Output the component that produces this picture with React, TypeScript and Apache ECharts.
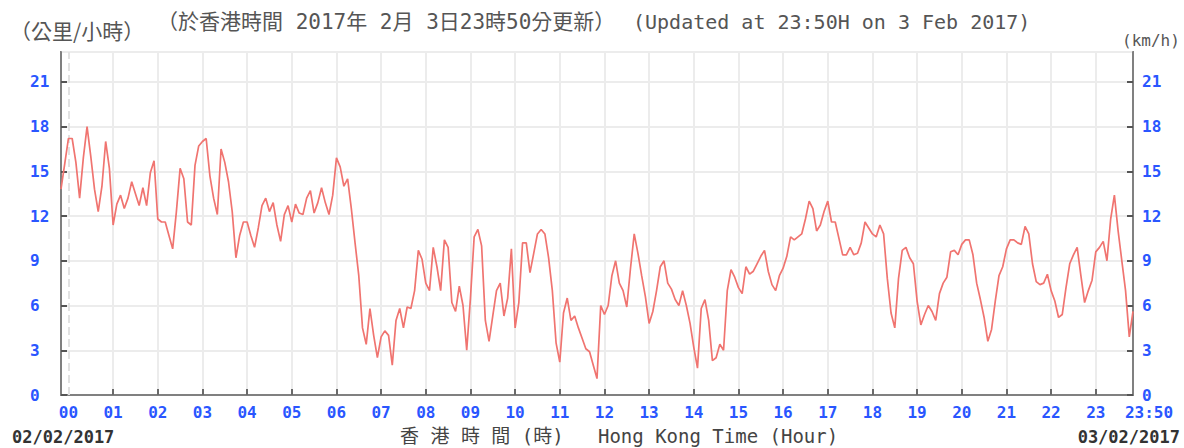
import React, { useEffect, useRef } from "react";
import * as echarts from "echarts";

// 5-minute wind speed readings (km/h), from 23:50 on 02/02/2017 to 23:50 on 03/02/2017
const START_MIN = -10;
const STEP_MIN = 5;

const speed0 = [
  13.8, 15.5, 17.2, 17.2, 15.6, 13.2, 15.9, 18.0, 16.0, 13.8,
  12.3, 14.0, 17.0, 15.2, 11.4, 12.8, 13.4, 12.5, 13.2, 14.3,
  13.5, 12.7, 13.9, 12.7, 14.9, 15.7, 11.8, 11.6, 11.6, 10.7,
  9.8, 12.3, 15.2, 14.5, 11.6, 11.4, 15.4, 16.7, 17.0, 17.2,
  14.7, 13.2, 12.1, 16.5, 15.6, 14.3, 12.3, 9.2, 10.7, 11.6,
  11.6, 10.7, 9.9, 11.2, 12.7, 13.2, 12.3, 12.9, 11.4, 10.3,
  12.1, 12.7, 11.6, 12.8, 12.2, 12.1, 13.2, 13.7, 12.2, 12.9,
  13.9, 12.9, 12.1, 13.4,
];
const speed1 = [
  15.9, 15.3, 14.0, 14.5, 12.5, 10.2, 8.0, 4.5, 3.4, 5.8,
  4.0, 2.5, 3.9, 4.3, 4.0, 2.0, 5.0, 5.8, 4.5, 5.9,
  5.8, 7.0, 9.7, 9.1, 7.5, 7.0, 9.9, 8.6, 7.0, 10.4,
  9.9, 6.2, 5.6, 7.3, 6.0, 3.0, 6.5, 10.6, 11.1, 10.0,
  5.0, 3.6, 5.3, 7.0, 7.5, 5.3, 6.5, 9.8, 4.5, 6.2,
  10.2, 10.2, 8.2, 9.5, 10.8, 11.1, 10.8, 9.2, 7.0, 3.5,
  2.2, 5.5, 6.5, 5.0, 5.3, 4.5, 3.8, 3.1, 2.9, 2.0,
  1.1, 6.0, 5.4,
];
const speed2 = [
  6.0, 8.0, 9.0, 7.5, 7.0, 5.9, 8.5, 10.8, 9.5, 8.0,
  6.6, 4.8, 5.6, 7.0, 8.6, 9.0, 7.5, 7.1, 6.4, 6.0,
  7.0, 6.0, 4.8, 3.2, 1.8, 5.8, 6.4, 5.0, 2.3, 2.5,
  3.4, 3.0, 7.0, 8.4, 7.9, 7.2, 6.8, 8.6, 8.1, 8.3,
  8.8, 9.3, 9.7, 8.3, 7.4, 7.0, 8.0, 8.5, 9.3, 10.6,
  10.4, 10.6, 10.8, 11.8, 13.0, 12.5, 11.0, 11.4, 12.3, 13.0,
  11.6, 11.6, 10.5, 9.4, 9.4, 9.9, 9.4, 9.5, 10.2, 11.6,
  11.2, 10.8,
];
const speed3 = [
  10.6, 11.4, 10.8, 7.8, 5.5, 4.5, 7.8, 9.7, 9.9, 9.2,
  8.8, 6.3, 4.7, 5.4, 6.0, 5.6, 5.0, 6.8, 7.5, 7.9,
  9.6, 9.7, 9.4, 10.1, 10.4, 10.4, 9.4, 7.5, 6.4, 5.2,
  3.6, 4.4, 6.3, 8.0, 8.6, 9.8, 10.4, 10.4, 10.2, 10.1,
  11.3, 10.8, 8.8, 7.6, 7.4, 7.5, 8.1, 7.0, 6.3, 5.2,
  5.4, 7.2, 8.8, 9.4, 9.9, 8.0, 6.2, 7.0, 7.7, 9.6,
  9.9, 10.3, 9.0, 11.8, 13.4, 11.0, 9.0, 7.0, 3.9, 5.6,
];

const speeds = [...speed0, ...speed1, ...speed2, ...speed3];

const pad2 = (n: number) => String(n).padStart(2, "0");
const times = speeds.map((_, i) => {
  const m = (START_MIN + i * STEP_MIN + 1440) % 1440;
  return `${pad2(Math.floor(m / 60))}:${pad2(m % 60)}`;
});

const Y_MIN = 0;
const Y_MAX = 23;
const Y_STEP = 3;

const TITLE_ZH = "（於香港時間 2017年 2月 3日23時50分更新）";
const TITLE_EN = "(Updated at 23:50H on 3 Feb 2017)";
const UNIT_ZH = "（公里/小時）";
const UNIT_EN = "(km/h)";
const X_TITLE = "香 港 時 間 (時)   Hong Kong Time (Hour)";
const START_DATE = "02/02/2017";
const END_DATE = "03/02/2017";

const MONO = '"DejaVu Sans Mono", "Noto Sans CJK TC", monospace';
const CJK = '"Noto Sans CJK TC", "DejaVu Sans Mono", sans-serif';
const LABEL_BLUE = "#2a56ff";
const AXIS_GRAY = "#808080";
const GRID_GRAY = "#ececec";

const isHour = (i: number) => times[i].endsWith(":00");
const isLast = (i: number) => i === times.length - 1;

export default function App() {
  const ref = useRef<HTMLDivElement>(null);

  useEffect(() => {
    if (!ref.current) return;
    const chart = echarts.init(ref.current, undefined, { renderer: "svg" });

    const labelFont = {
      color: LABEL_BLUE,
      fontFamily: MONO,
      fontWeight: "bold" as const,
      fontSize: 16,
    };

    const yAxisBase = (position: "left" | "right", margin: number, split: boolean) => ({
      type: "value" as const,
      position,
      min: Y_MIN,
      max: Y_MAX,
      interval: Y_STEP,
      axisLine: { show: true, lineStyle: { color: AXIS_GRAY, width: 2 } },
      axisTick: { show: true, inside: true, length: 6, lineStyle: { color: "#555", width: 2 } },
      axisLabel: { ...labelFont, showMaxLabel: false, align: "left", margin },
      splitLine: { show: split, lineStyle: { color: GRID_GRAY, width: 2 } },
    });

    chart.setOption({
      animation: false,
      backgroundColor: "#ffffff",
      grid: {
        left: 61,
        right: 51,
        top: 52,
        bottom: 53,
        show: true,
        borderColor: AXIS_GRAY,
        borderWidth: 2,
        backgroundColor: "transparent",
      },
      xAxis: {
        type: "category",
        data: times,
        boundaryGap: false,
        axisLine: { show: true, lineStyle: { color: AXIS_GRAY, width: 2 } },
        axisTick: {
          show: true,
          inside: true,
          length: 6,
          interval: (i: number) => isHour(i),
          lineStyle: { color: "#6a6a6a", width: 2 },
        },
        axisLabel: {
          ...labelFont,
          margin: 9,
          interval: (i: number) => isHour(i) || isLast(i),
          formatter: (v: string, i: number) => (isLast(i) ? `{end|${v}}` : v.slice(0, 2)),
          rich: { end: { ...labelFont, padding: [0, 0, 0, 32] } },
        },
        splitLine: {
          show: true,
          interval: (i: number) => isHour(i) && times[i] !== "00:00",
          lineStyle: { color: GRID_GRAY, width: 2 },
        },
      },
      yAxis: [yAxisBase("left", 31, true), yAxisBase("right", 9, false)],
      series: [
        {
          type: "line",
          data: speeds,
          showSymbol: false,
          symbol: "none",
          lineStyle: { color: "#f07470", width: 1.7 },
          markLine: {
            silent: true,
            symbol: "none",
            label: { show: false },
            lineStyle: { type: "dashed", color: "#e2e2e2", width: 2 },
            data: [{ xAxis: "00:00" }],
          },
          z: 5,
        },
      ],
      graphic: [
        {
          type: "text",
          x: 10,
          y: 30,
          style: { text: UNIT_ZH, fill: "#555", fontFamily: CJK, fontSize: 21, align: "left", verticalAlign: "middle" },
        },
        {
          type: "text",
          x: 157,
          y: 22,
          style: { text: TITLE_ZH, fill: "#555", fontFamily: MONO, fontSize: 21, align: "left", verticalAlign: "middle" },
        },
        {
          type: "text",
          x: 633,
          y: 22,
          style: { text: TITLE_EN, fill: "#555", fontFamily: MONO, fontSize: 20, align: "left", verticalAlign: "middle" },
        },
        {
          type: "text",
          x: 1122,
          y: 40,
          style: { text: UNIT_EN, fill: "#555", fontFamily: MONO, fontSize: 16, align: "left", verticalAlign: "middle" },
        },
        {
          type: "text",
          x: 12,
          y: 437,
          style: { text: START_DATE, fill: "#333", fontFamily: MONO, fontWeight: "bold", fontSize: 17, align: "left", verticalAlign: "middle" },
        },
        {
          type: "text",
          x: 1180,
          y: 437,
          style: { text: END_DATE, fill: "#333", fontFamily: MONO, fontWeight: "bold", fontSize: 17, align: "right", verticalAlign: "middle" },
        },
        {
          type: "text",
          x: 400,
          y: 436,
          style: { text: X_TITLE, fill: "#444", fontFamily: MONO, fontSize: 19, align: "left", verticalAlign: "middle" },
        },
      ],
    });

    return () => chart.dispose();
  }, []);

  return (
    <div
      ref={ref}
      style={{ position: "fixed", left: 0, top: 0, width: 1184, height: 448, background: "#fff" }}
    />
  );
}
